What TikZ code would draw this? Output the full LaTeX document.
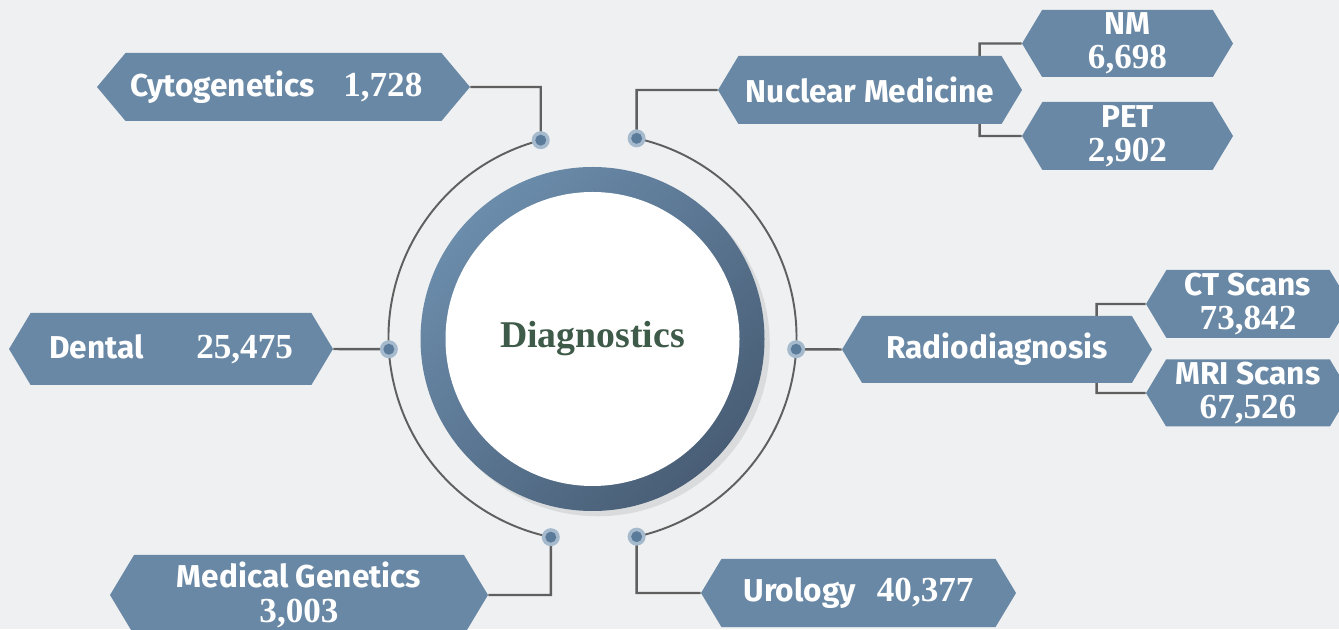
\documentclass[tikz,border=0pt]{standalone}
\usepackage{fontspec}
\usetikzlibrary{shapes.symbols,shadows}
\newfontfamily\lblfont{Fira Sans}
\newfontfamily\numfont{Liberation Serif}
\definecolor{paper}{HTML}{EEF0F1}
\definecolor{boxblue}{HTML}{6988A5}
\definecolor{linegray}{HTML}{5F5F5F}
\definecolor{ringtop}{HTML}{6B8CAB}
\definecolor{ringbot}{HTML}{495E76}
\definecolor{dotblue}{HTML}{5B7B9B}
\definecolor{haloblue}{HTML}{A6BACD}
\definecolor{hubgreen}{HTML}{3E5A48}
\newcommand\pxu{0.02cm}
\newcommand\val[1]{{\numfont\bfseries\fontsize{20}{19.5}\selectfont #1}}
\pgfdeclarelayer{bg}
\pgfdeclarelayer{back}
\pgfsetlayers{bg,back,main}

\begin{document}
\begin{tikzpicture}[x=\pxu,y=\pxu,
		tag/.style={signal, signal to=west and east, signal pointer angle=118, fill=boxblue, text=white, inner sep=0pt, align=center, font={\lblfont\bfseries\fontsize{18}{19.5}\selectfont}},
		link/.style={draw=linegray, line width=1.4pt},
		ring/.style={draw=linegray, line width=1.1pt}]
	\useasboundingbox (0,0) rectangle (1339,629);
	\begin{pgfonlayer}{bg}
		\fill[paper] (0,0) rectangle (1339,629);
	\end{pgfonlayer}
	\coordinate (hubc) at (592.5,291.5);
	\node[circle, minimum size=344*\pxu, top color=ringtop, bottom color=ringbot, shading angle=45, drop shadow={shadow xshift=3pt, shadow yshift=-3pt, opacity=0.18}] (disc) at (592.5,290) {};
	\node[circle, fill=white, minimum size=294*\pxu, text=hubgreen, font={\numfont\bfseries\fontsize{21.5}{24}\selectfont}] (core) at (disc.center) {Diagnostics};
	\path (hubc) ++(104.7:204) coordinate (dcyto)
		(hubc) ++(77.5:204) coordinate (dnuc)
		(hubc) ++(183.3:204) coordinate (ddent)
		(hubc) ++(-3.3:204) coordinate (drad)
		(hubc) ++(258.2:204) coordinate (dmed)
		(hubc) ++(-77.5:204) coordinate (duro);
	\draw[ring] (dcyto) arc[start angle=104.7, end angle=258.2, radius=204];
	\draw[ring] (dnuc) arc[start angle=77.5, end angle=-77.5, radius=204];

	\node[tag, signal pointer angle=100, minimum width=373*\pxu, minimum height=68*\pxu] (cyto) at (283.5,542) {Cytogenetics\hspace{16pt}\val{1,728}\kern8pt};
	\node[tag, minimum width=324*\pxu, minimum height=72*\pxu] (dental) at (171,280) {Dental\hspace{30pt}\val{25,475}};
	\node[tag, minimum width=378*\pxu, minimum height=80*\pxu] (medgen) at (299,34) {Medical Genetics\\\val{3,003}};
	\node[tag, minimum width=315*\pxu, minimum height=68*\pxu] (uro) at (858.5,36) {Urology\hspace{12pt}\val{40,377}};
	\node[tag, minimum width=304*\pxu, minimum height=68*\pxu] (nucmed) at (870,539) {Nuclear Medicine};
	\node[tag, minimum width=211*\pxu, minimum height=67*\pxu] (nm) at (1127.5,585.5) {NM\\\val{6,698}};
	\node[tag, minimum width=211*\pxu, minimum height=68*\pxu] (pet) at (1127.5,493) {PET\\\val{2,902}};
	\node[tag, minimum width=310*\pxu, minimum height=67*\pxu] (radio) at (997,279.5) {Radiodiagnosis};
	\node[tag, minimum width=204*\pxu, minimum height=68*\pxu] (ct) at (1248,325) {CT Scans\\\val{73,842}};
	\node[tag, minimum width=204*\pxu, minimum height=67*\pxu] (mri) at (1248,236) {MRI Scans\\\val{67,526}};

	\begin{pgfonlayer}{back}
		\path[link] (cyto.east) -| (dcyto)
			(nucmed.west) -| (dnuc)
			(dental.east) -- (ddent)
			(radio.west) -- (drad)
			(medgen.east) -| (dmed)
			(uro.west) -| (duro)
			(nm.west) -- ++(-42,0) |- (pet.west)
			(ct.west) -- ++(-49,0) |- (mri.west);
	\end{pgfonlayer}
	\foreach \d in {dcyto,dnuc,ddent,drad,dmed,duro} {
		\fill[haloblue] (\d) circle[radius=9];
		\fill[dotblue] (\d) circle[radius=5.5];
	}
\end{tikzpicture}
\end{document}
